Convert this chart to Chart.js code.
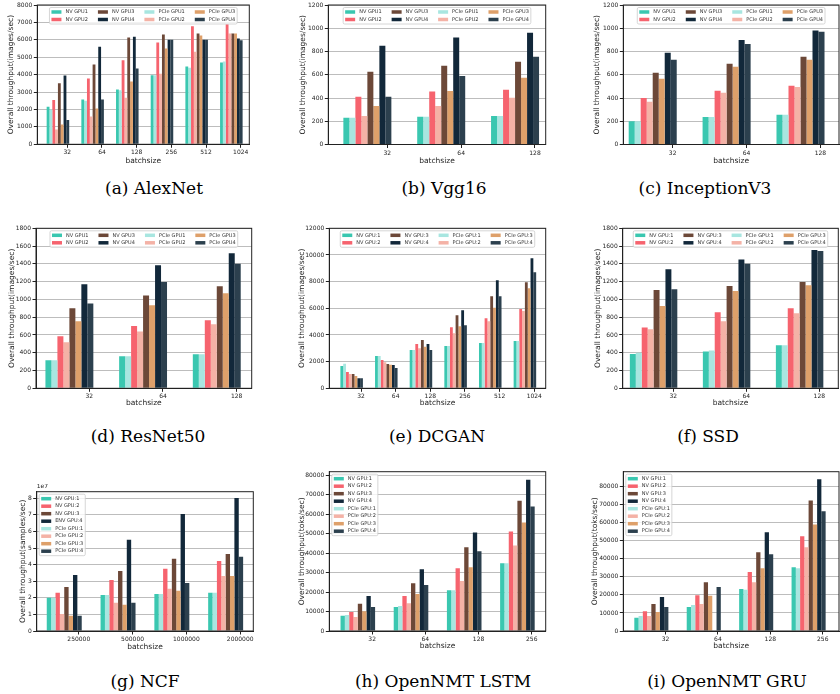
<!DOCTYPE html>
<html>
<head>
<meta charset="utf-8">
<script src="https://cdn.jsdelivr.net/npm/chart.js@4.4.0/dist/chart.umd.min.js"></script>
<style>
  body { margin: 0; width: 840px; height: 694px; position: relative; overflow: hidden; background: #fff; }
  canvas { position: absolute; }
  .cap { position: absolute; font-family: 'DejaVu Serif', serif; font-size: 17px; color: #000;
         transform: translate(-50%, -50%); white-space: nowrap; }
</style>
</head>
<body>
<div class="cap" style="left:154px;top:188px">(a) AlexNet</div>
<div class="cap" style="left:444px;top:188px">(b) Vgg16</div>
<div class="cap" style="left:705px;top:188px">(c) InceptionV3</div>
<div class="cap" style="left:148px;top:436px">(d) ResNet50</div>
<div class="cap" style="left:437px;top:436px">(e) DCGAN</div>
<div class="cap" style="left:708px;top:436px">(f) SSD</div>
<div class="cap" style="left:145px;top:681px">(g) NCF</div>
<div class="cap" style="left:443px;top:681px">(h) OpenNMT LSTM</div>
<div class="cap" style="left:727px;top:681px">(i) OpenNMT GRU</div>
<script>
// ---- data: rows are GPU1..GPU4, columns follow the batch sizes ----
const namesPlain = ['NV GPU1', 'NV GPU2', 'NV GPU3', 'NV GPU4', 'PCIe GPU1', 'PCIe GPU2', 'PCIe GPU3', 'PCIe GPU4'];
const namesColon = ['NV GPU:1', 'NV GPU:2', 'NV GPU:3', 'NV GPU:4', 'PCIe GPU:1', 'PCIe GPU:2', 'PCIe GPU:3', 'PCIe GPU:4'];
const namesNcf = ['NV GPU:1', 'NV GPU:2', 'NV GPU:3', 'ENV GPU:4', 'PCIe GPU:1', 'PCIe GPU:2', 'PCIe GPU:3', 'PCIe GPU:4'];

const alexBatch = ['32', '64', '128', '256', '512', '1024'];
const alexNV = [
  [2150, 2570, 3150, 3960, 4470, 4700],
  [2550, 3780, 4820, 5850, 6780, 6900],
  [3500, 4580, 6130, 6300, 6360, 6360],
  [3950, 5600, 6180, 6000, 6000, 6070]
];
const alexPCIe = [
  [2000, 2500, 3100, 3960, 4400, 4750],
  [850, 1600, 2680, 4050, 5320, 6360],
  [1130, 2050, 3600, 5500, 6250, 6360],
  [1400, 2570, 4350, 6000, 6000, 5980]
];

const vggBatch = ['32', '64', '128'];
const vggNV = [[230, 238, 245], [410, 455, 470], [625, 678, 712], [850, 920, 962]];
const vggPCIe = [[230, 238, 245], [245, 332, 402], [332, 460, 575], [410, 590, 755]];

const incBatch = ['32', '64', '128'];
const incNV = [[200, 237, 255], [400, 462, 505], [618, 695, 755], [790, 900, 980]];
const incPCIe = [[200, 237, 255], [368, 445, 495], [565, 668, 728], [730, 865, 970]];

const resBatch = ['32', '64', '128'];
const resNV = [[315, 360, 382], [585, 700, 765], [900, 1045, 1148], [1170, 1385, 1520]];
const resPCIe = [[315, 360, 382], [518, 640, 720], [755, 935, 1070], [955, 1195, 1400]];

const ganBatch = ['32', '64', '128', '256', '512', '1024'];
const ganNV = [
  [1670, 2420, 2870, 3170, 3400, 3550],
  [1220, 2120, 3320, 4580, 5250, 5950],
  [1070, 1820, 3620, 5480, 6900, 7950],
  [750, 1750, 3320, 5850, 8100, 9750]
];
const ganPCIe = [
  [1840, 2420, 2870, 3170, 3400, 3550],
  [1070, 1950, 3000, 4120, 5020, 5800],
  [920, 1770, 3120, 4650, 6050, 7500],
  [750, 1520, 2870, 4720, 6900, 8700]
];

const ssdBatch = ['32', '64', '128'];
const ssdNV = [[385, 415, 485], [685, 855, 900], [1105, 1150, 1195], [1340, 1450, 1555]];
const ssdPCIe = [[400, 425, 485], [665, 755, 845], [925, 1095, 1160], [1115, 1400, 1545]];

const ncfBatch = ['250000', '500000', '1000000', '2000000'];
const ncfNV = [
  [2.0e7, 2.17e7, 2.23e7, 2.3e7],
  [2.3e7, 3.08e7, 3.75e7, 4.22e7],
  [2.65e7, 3.62e7, 4.35e7, 4.65e7],
  [3.38e7, 5.5e7, 7.05e7, 8.02e7]
];
const ncfPCIe = [
  [2.0e7, 2.17e7, 2.23e7, 2.3e7],
  [1.03e7, 1.7e7, 2.55e7, 3.32e7],
  [0.92e7, 1.58e7, 2.42e7, 3.32e7],
  [0.92e7, 1.7e7, 2.9e7, 4.48e7]
];

const lstmBatch = ['32', '64', '128', '256'];
const lstmNV = [
  [7800, 12300, 21000, 34800],
  [9800, 18000, 32300, 51200],
  [14000, 24600, 43000, 67000],
  [18000, 31800, 50700, 77800]
];
const lstmPCIe = [
  [8200, 12800, 21000, 34800],
  [7200, 14300, 25700, 44000],
  [10200, 19000, 32800, 55800],
  [12300, 23600, 41000, 64000]
];

const gruBatch = ['32', '64', '128', '256'];
const gruNV = [
  [7300, 13300, 23300, 35300],
  [11000, 19800, 32700, 52400],
  [15000, 27000, 43600, 72300],
  [18800, null, 54700, 84000]
];
const gruPCIe = [
  [8300, 14400, 22800, 34800],
  [8300, 15000, 27000, 46400],
  [10500, 19500, 34800, 59000],
  [13300, 24300, 42500, 66300]
];

// ---- style ----
const colorsNV = ['#3ac7b0', '#f6636e', '#6c4838', '#12283a'];
const colorsPCIe = ['#a8e6e0', '#f4b2a6', '#dea06a', '#2c404e'];
const TICK_OFF = 0.27;   // tick sits near the right end of each group
const GROUP = 0.65;      // share of one batch step covered by the 8 bars
const TITLE_FS = 7.5;

Chart.defaults.font.family = "'DejaVu Sans'";

// black frame around the plot area
const frame = {
  id: 'frame',
  afterDraw(chart) {
    const { ctx, chartArea: a } = chart;
    ctx.save();
    ctx.strokeStyle = '#222';
    ctx.lineWidth = 1;
    ctx.strokeRect(a.left, a.top, a.right - a.left, a.bottom - a.top);
    ctx.restore();
  }
};

// matplotlib-like boxed legend, filled column by column
const boxLegend = {
  id: 'boxLegend',
  afterDraw(chart, args, o) {
    const { ctx, chartArea: a } = chart;
    const fs = o.fs;
    const items = [0, 2, 4, 6, 1, 3, 5, 7].map(i => chart.data.datasets[i]);
    ctx.save();
    ctx.font = fs + "px 'DejaVu Sans'";
    const nrow = Math.ceil(items.length / o.ncol);
    const pad = 0.4 * fs, hl = 2 * fs, hh = 0.7 * fs, tp = 0.8 * fs, cs = 2 * fs, ls = 0.5 * fs;
    const cols = [];
    for (let c = 0; c < o.ncol; c++) {
      const its = items.slice(c * nrow, (c + 1) * nrow);
      cols.push({ its, w: hl + tp + Math.max(...its.map(d => ctx.measureText(d.label).width)) });
    }
    const w = 2 * pad + cols.reduce((s, c) => s + c.w, 0) + (o.ncol - 1) * cs;
    const h = 2 * pad + nrow * fs + (nrow - 1) * ls;
    const bap = 0.5 * fs;
    const x0 = o.loc === 'upper left' ? a.left + bap : (a.left + a.right) / 2 - w / 2;
    const y0 = a.top + bap;
    ctx.fillStyle = 'rgba(255,255,255,0.8)';
    ctx.strokeStyle = '#cccccc';
    ctx.lineWidth = 0.8;
    ctx.beginPath();
    ctx.roundRect(x0, y0, w, h, 1.5);
    ctx.fill();
    ctx.stroke();
    let x = x0 + pad;
    ctx.textBaseline = 'middle';
    cols.forEach(c => {
      c.its.forEach((d, r) => {
        const cy = y0 + pad + r * (fs + ls) + fs / 2;
        ctx.fillStyle = d.backgroundColor;
        ctx.fillRect(x, cy - hh / 2, hl, hh);
        ctx.fillStyle = '#333';
        ctx.fillText(d.label, x + hl + tp, cy);
      });
      x += c.w + cs;
    });
    ctx.restore();
  }
};

// "1e7" offset text above the y axis
const offsetText = {
  id: 'offsetText',
  afterDraw(chart, args, o) {
    if (!o.text) return;
    const { ctx, chartArea: a } = chart;
    ctx.save();
    ctx.font = "6px 'DejaVu Sans'";
    ctx.fillStyle = '#222';
    ctx.textBaseline = 'bottom';
    ctx.fillText(o.text, a.left, a.top - 2);
    ctx.restore();
  }
};

function panel(p) {
  const left = Math.round(p.yTitleX - TITLE_FS / 2);
  const top = Math.round(p.T - 8);
  const right = Math.round(p.R + 14);
  const bottom = Math.round(p.xTitleY + TITLE_FS / 2);
  const cv = document.createElement('canvas');
  cv.width = right - left;
  cv.height = bottom - top;
  cv.style.left = left + 'px';
  cv.style.top = top + 'px';
  document.body.appendChild(cv);

  const datasets = [];
  for (let g = 0; g < 4; g++) {
    datasets.push({ label: p.names[g], backgroundColor: colorsNV[g],
      data: p.nv[g].map((v, i) => ({ x: i, y: v })) });
    datasets.push({ label: p.names[4 + g], backgroundColor: colorsPCIe[g],
      data: p.pcie[g].map((v, i) => ({ x: i, y: v })) });
  }
  const tickFont = { size: 6 };
  const titleFont = { size: TITLE_FS, lineHeight: 1 };

  new Chart(cv, {
    type: 'bar',
    data: { datasets },
    plugins: [frame, boxLegend, offsetText],
    options: {
      responsive: false,
      animation: false,
      devicePixelRatio: 1,
      layout: { padding: { left: 0, top: p.T - top, right: right - p.R, bottom: 0 } },
      datasets: { bar: { categoryPercentage: GROUP, barPercentage: 1, borderWidth: 0 } },
      plugins: {
        legend: { display: false },
        tooltip: { enabled: false },
        boxLegend: { fs: p.fs || 5, ncol: p.ncol, loc: p.loc },
        offsetText: { text: p.offset }
      },
      scales: {
        x: {
          type: 'linear', min: p.xMin, max: p.xMax, offset: false, bounds: 'data',
          afterBuildTicks: s => { s.ticks = p.batch.map((b, i) => ({ value: i + TICK_OFF })); },
          afterFit: s => { s.height = bottom - p.B; },
          ticks: { callback: (v, i) => p.batch[i], autoSkip: false, maxRotation: 0, font: tickFont, color: '#222', padding: 1.5 },
          grid: { drawOnChartArea: false, tickLength: 3.5, tickColor: '#222', offset: false },
          border: { color: '#222', width: 1 },
          title: { display: true, text: 'batchsize', font: titleFont, color: '#222', padding: 0 }
        },
        y: {
          min: 0, max: p.yMax, bounds: 'data', z: 1,
          afterBuildTicks: s => {
            const t = [];
            for (let k = 0; k * p.yStep <= p.yMax; k++) t.push({ value: k * p.yStep });
            s.ticks = t;
          },
          afterFit: s => { s.width = p.L - left; },
          ticks: { font: tickFont, color: '#222', padding: 1.5,
                   callback: v => String(p.yDiv ? Math.round(v / p.yDiv) : v) },
          grid: { color: '#bdbdbd', lineWidth: 1, tickLength: 3.5, tickColor: '#222' },
          border: { color: '#222', width: 1 },
          title: { display: true, text: p.yTitle, font: titleFont, color: '#222', padding: 0 }
        }
      }
    }
  });
}

const imgTitle = 'Overall throughput(images/sec)';

panel({ batch: alexBatch, nv: alexNV, pcie: alexPCIe, names: namesPlain, yTitle: imgTitle,
  L: 37.3, T: 5, R: 249.3, B: 144.3, yTitleX: 10.3, xTitleY: 161.7, xMin: -0.595, xMax: 5.518,
  yMax: 8000, yStep: 1000, ncol: 4, loc: 'upper center' });
panel({ batch: vggBatch, nv: vggNV, pcie: vggPCIe, names: namesPlain, yTitle: imgTitle,
  L: 328.3, T: 5, R: 545.7, B: 144.5, yTitleX: 303, xTitleY: 161.7, xMin: -0.529, xMax: 2.415,
  yMax: 1200, yStep: 200, ncol: 4, loc: 'upper center' });
panel({ batch: incBatch, nv: incNV, pcie: incPCIe, names: namesPlain, yTitle: imgTitle,
  L: 623.3, T: 5, R: 839, B: 144.5, yTitleX: 597, xTitleY: 161.7, xMin: -0.398, xMax: 2.521,
  yMax: 1200, yStep: 200, ncol: 4, loc: 'upper center' });

panel({ batch: resBatch, nv: resNV, pcie: resPCIe, names: namesPlain, yTitle: imgTitle,
  L: 36, T: 228.3, R: 251.7, B: 388.3, yTitleX: 12, xTitleY: 403.3, xMin: -0.453, xMax: 2.474,
  yMax: 1800, yStep: 200, ncol: 4, loc: 'upper center' });
panel({ batch: ganBatch, nv: ganNV, pcie: ganPCIe, names: namesColon, yTitle: imgTitle,
  L: 329.3, T: 228.3, R: 545.7, B: 388.3, yTitleX: 301.7, xTitleY: 403.3, xMin: -0.645, xMax: 5.6,
  yMax: 12000, yStep: 2000, ncol: 4, loc: 'upper center' });
panel({ batch: ssdBatch, nv: ssdNV, pcie: ssdPCIe, names: namesColon, yTitle: imgTitle,
  L: 622.7, T: 228.3, R: 838.3, B: 388.3, yTitleX: 598, xTitleY: 403.3, xMin: -0.423, xMax: 2.53,
  yMax: 1800, yStep: 200, ncol: 4, loc: 'upper center' });

panel({ batch: ncfBatch, nv: ncfNV, pcie: ncfPCIe, names: namesNcf, yTitle: 'Overall throughput(samples/sec)',
  L: 36.7, T: 491.7, R: 253.3, B: 631, yTitleX: 22.7, xTitleY: 647, xMin: -0.512, xMax: 3.514,
  yMax: 8.4e7, yStep: 1e7, yDiv: 1e7, offset: '1e7', ncol: 1, loc: 'upper left' });
panel({ batch: lstmBatch, nv: lstmNV, pcie: lstmPCIe, names: namesColon, yTitle: 'Overall throughput(toks/sec)',
  L: 329.3, T: 471.7, R: 545.7, B: 631, yTitleX: 301.7, xTitleY: 646.7, xMin: -0.536, xMax: 3.532,
  yMax: 81900, yStep: 10000, ncol: 1, loc: 'upper left' });
panel({ batch: gruBatch, nv: gruNV, pcie: gruPCIe, names: namesColon, yTitle: 'Overall throughput(toks/sec)',
  L: 623.3, T: 471.7, R: 839, B: 631, yTitleX: 595, xTitleY: 646.7, xMin: -0.535, xMax: 3.58,
  yMax: 88200, yStep: 10000, ncol: 1, loc: 'upper left' });
</script>
</body>
</html>
